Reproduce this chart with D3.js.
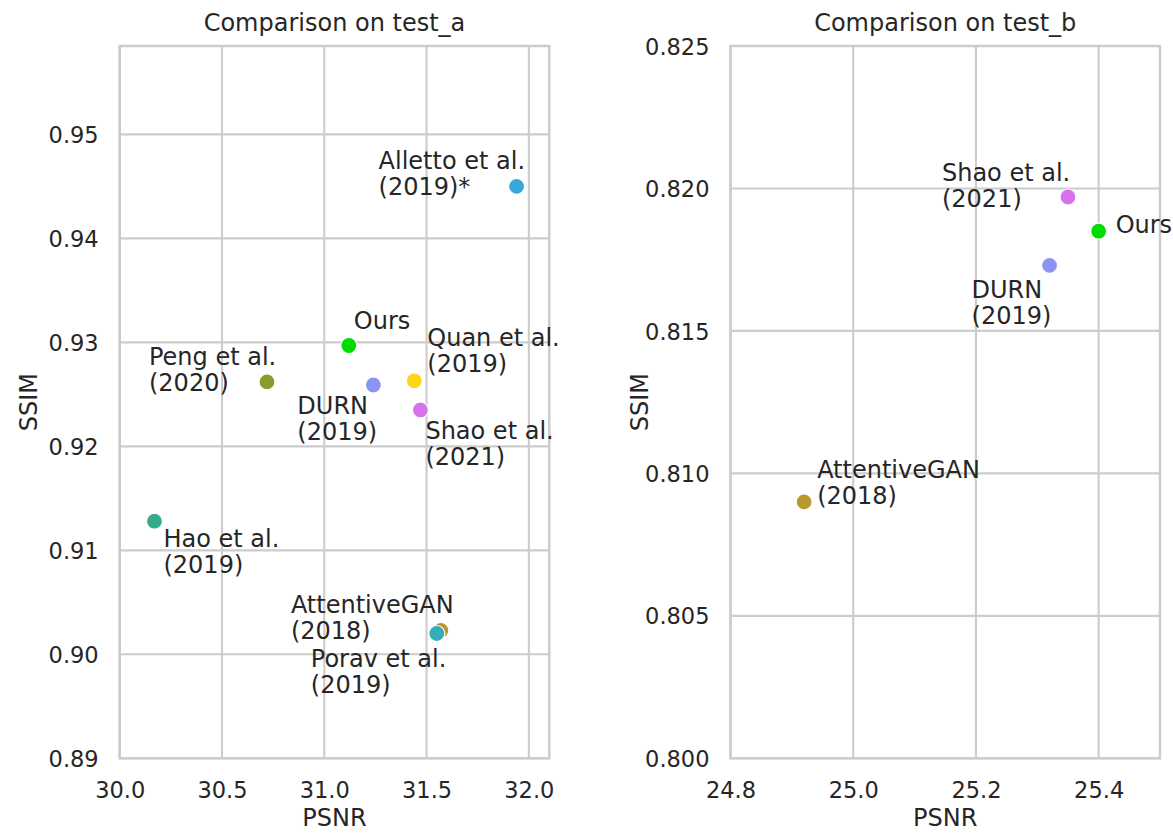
<!DOCTYPE html>
<html>
<head>
<meta charset="utf-8">
<script src="https://cdn.jsdelivr.net/npm/d3@7"></script>
<style>
  html, body { margin: 0; padding: 0; background: #ffffff; }
  svg { display: block; font-family: "DejaVu Sans", sans-serif; }
</style>
</head>
<body>
<svg id="chart" width="1173" height="833"></svg>
<script>
// ---- test_a results ----
const methodsA = ["AttentiveGAN\n(2018)", "Porav et al.\n(2019)", "Quan et al.\n(2019)", "DURN\n(2019)",
                  "Hao et al.\n(2019)", "Alletto et al.\n(2019)*", "Peng et al.\n(2020)", "Shao et al.\n(2021)", "Ours"];
const psnrA = [31.57, 31.55, 31.44, 31.24, 30.17, 31.94, 30.72, 31.47, 31.12];
const ssimA = [0.9023, 0.9020, 0.9263, 0.9259, 0.9128, 0.9450, 0.9262, 0.9235, 0.9297];

// ---- test_b results ----
const methodsB = ["AttentiveGAN\n(2018)", "DURN\n(2019)", "Shao et al.\n(2021)", "Ours"];
const psnrB = [24.92, 25.32, 25.35, 25.40];
const ssimB = [0.8090, 0.8173, 0.8197, 0.8185];

// ---- tick labels ----
const xTicksA = [30.0, 30.5, 31.0, 31.5, 32.0];
const yTicksA = [0.89, 0.90, 0.91, 0.92, 0.93, 0.94, 0.95];
const xTicksB = [24.8, 25.0, 25.2, 25.4];
const yTicksB = [0.800, 0.805, 0.810, 0.815, 0.820, 0.825];

// one colour per method
const methodColor = {
  "AttentiveGAN": "#b9992f",
  "Porav et al.": "#35acb9",
  "Quan et al.": "#ffd519",
  "DURN": "#8c94f3",
  "Hao et al.": "#35ab8d",
  "Alletto et al.": "#39a6db",
  "Peng et al.": "#899b2c",
  "Shao et al.": "#d872ec",
  "Ours": "#00db00"
};

// label placement: pixel offset of the first text baseline from its point
const labelOffsetA = {
  "AttentiveGAN": [-150, -17], "Porav et al.": [-126, 33], "Quan et al.": [13, -35],
  "DURN": [-76, 29], "Hao et al.": [9, 26], "Alletto et al.": [-138, -17],
  "Peng et al.": [-118, -17], "Shao et al.": [5, 29], "Ours": [5, -16]
};
const labelOffsetB = {
  "AttentiveGAN": [13, -24], "DURN": [-78, 33], "Shao et al.": [-126, -16], "Ours": [17, 2]
};

const svg = d3.select("#chart");
const TEXT = "#262626", GRID = "#cccccc";
const plotTop = 46, plotBottom = 758.3;

function panel(cfg) {
  const x = d3.scaleLinear().domain(cfg.xDomain).range([cfg.left, cfg.right]);
  const y = d3.scaleLinear().domain(cfg.yDomain).range([plotBottom, plotTop]);
  const g = svg.append("g");

  // grid
  g.append("g").selectAll("line").data(cfg.xTicks).join("line")
    .attr("x1", d => x(d)).attr("x2", d => x(d)).attr("y1", plotTop).attr("y2", plotBottom)
    .attr("stroke", GRID).attr("stroke-width", 2.1);
  g.append("g").selectAll("line").data(cfg.yTicks).join("line")
    .attr("x1", cfg.left).attr("x2", cfg.right).attr("y1", d => y(d)).attr("y2", d => y(d))
    .attr("stroke", GRID).attr("stroke-width", 2.1);

  // frame
  g.append("rect").attr("x", cfg.left).attr("y", plotTop)
    .attr("width", cfg.right - cfg.left).attr("height", plotBottom - plotTop)
    .attr("fill", "none").attr("stroke", GRID).attr("stroke-width", 2.5);

  // axes (tick labels only, no tick marks)
  const xAxis = d3.axisBottom(x).tickValues(cfg.xTicks).tickFormat(d3.format(cfg.xFmt))
    .tickSize(0).tickPadding(0);
  const gx = g.append("g").attr("transform", `translate(0,${plotBottom})`).call(xAxis);
  gx.select(".domain").remove();
  gx.selectAll("text").attr("font-size", 22.5).attr("fill", TEXT)
    .attr("font-family", "DejaVu Sans").attr("y", 40).attr("dy", null);

  const yAxis = d3.axisLeft(y).tickValues(cfg.yTicks).tickFormat(d3.format(cfg.yFmt))
    .tickSize(0).tickPadding(21);
  const gy = g.append("g").attr("transform", `translate(${cfg.left},0)`).call(yAxis);
  gy.select(".domain").remove();
  gy.selectAll("text").attr("font-size", 22.5).attr("fill", TEXT)
    .attr("font-family", "DejaVu Sans").attr("dy", "0.36em");

  // titles
  const cx = (cfg.left + cfg.right) / 2;
  g.append("text").attr("x", cx).attr("y", 31).attr("text-anchor", "middle")
    .attr("font-size", 24).attr("fill", TEXT).text(cfg.title);
  g.append("text").attr("x", cx).attr("y", 826).attr("text-anchor", "middle")
    .attr("font-size", 24).attr("fill", TEXT).text("PSNR");
  g.append("text").attr("transform", `translate(${cfg.left - 83},${(plotTop + plotBottom) / 2}) rotate(-90)`)
    .attr("text-anchor", "middle").attr("font-size", 24).attr("fill", TEXT).text("SSIM");

  // points
  const rows = cfg.methods.map((m, i) => ({ label: m, key: m.split("\n")[0], px: cfg.psnr[i], ss: cfg.ssim[i] }));
  g.append("g").selectAll("circle").data(rows).join("circle")
    .attr("cx", d => x(d.px)).attr("cy", d => y(d.ss)).attr("r", 8)
    .attr("fill", d => methodColor[d.key])
    .attr("stroke", "#ffffff").attr("stroke-width", 1.2);

  // labels
  const lab = g.append("g").selectAll("text").data(rows).join("text")
    .attr("font-size", 24).attr("fill", TEXT)
    .attr("x", d => x(d.px) + cfg.offsets[d.key][0])
    .attr("y", d => y(d.ss) + cfg.offsets[d.key][1]);
  lab.each(function (d) {
    const t = d3.select(this);
    d.label.split("\n").forEach((line, i) => {
      t.append("tspan").attr("x", x(d.px) + cfg.offsets[d.key][0])
        .attr("dy", i === 0 ? 0 : 26).text(line);
    });
  });
}

panel({
  left: 119.7, right: 549.3, xDomain: [30.0, 32.1], yDomain: [0.89, 0.9585],
  xTicks: xTicksA, yTicks: yTicksA, xFmt: ".1f", yFmt: ".2f",
  title: "Comparison on test_a", methods: methodsA, psnr: psnrA, ssim: ssimA, offsets: labelOffsetA
});
panel({
  left: 730.5, right: 1160, xDomain: [24.8, 25.5], yDomain: [0.800, 0.825],
  xTicks: xTicksB, yTicks: yTicksB, xFmt: ".1f", yFmt: ".3f",
  title: "Comparison on test_b", methods: methodsB, psnr: psnrB, ssim: ssimB, offsets: labelOffsetB
});
</script>
</body>
</html>
